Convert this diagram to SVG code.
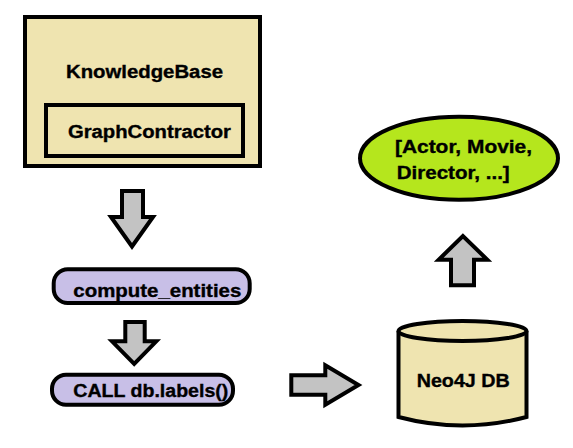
<svg xmlns="http://www.w3.org/2000/svg" width="573" height="448" viewBox="0 0 573 448">
<style>
.box{fill:#efe4b0;stroke:#000;stroke-width:4}
.pill{fill:#c8bfe7;stroke:#000;stroke-width:4}
.ell{fill:#b5e61d;stroke:#000;stroke-width:4}
.arr{fill:#c3c3c3;stroke:#000;stroke-width:4;stroke-linejoin:miter}
.t{font-family:"Liberation Sans",Arial,sans-serif;font-weight:bold;font-size:17.5px;fill:#000;stroke:#000;stroke-width:0.35}
</style>
<rect width="573" height="448" fill="#fff"/>
<g id="knowledgebase">
<rect class="box" x="25" y="17" width="235" height="149"/>
<text class="t" x="66" y="77.5" textLength="157" lengthAdjust="spacingAndGlyphs">KnowledgeBase</text>
</g>
<g id="graphcontractor">
<rect class="box" x="46" y="105" width="197" height="51"/>
<text class="t" x="68" y="137.5" textLength="163" lengthAdjust="spacingAndGlyphs">GraphContractor</text>
</g>
<g id="compute_entities">
<rect class="pill" x="53.7" y="269.3" width="196" height="33.7" rx="14" ry="14"/>
<text class="t" x="73.3" y="297" textLength="168" lengthAdjust="spacingAndGlyphs">compute_entities</text>
</g>
<g id="call_db_labels">
<rect class="pill" x="52" y="374.7" width="181" height="30" rx="14" ry="14"/>
<text class="t" x="73.3" y="397" textLength="155" lengthAdjust="spacingAndGlyphs">CALL db.labels()</text>
</g>
<g id="neo4j_db">
<path class="box" d="M398.5 331 L398.5 417 Q462.5 434 526.5 417 L526.5 331"/>
<ellipse class="box" cx="462.5" cy="331" rx="64" ry="10"/>
<text class="t" x="416.7" y="387" textLength="93" lengthAdjust="spacingAndGlyphs">Neo4J DB</text>
</g>
<g id="labels_result">
<ellipse class="ell" cx="459" cy="158.3" rx="99" ry="41.5"/>
<text class="t" x="395" y="153.3" textLength="137" lengthAdjust="spacingAndGlyphs">[Actor, Movie,</text>
<text class="t" x="396.7" y="179" textLength="113" lengthAdjust="spacingAndGlyphs">Director, ...]</text>
</g>
<g id="connectors">
<polygon class="arr" points="122,191 143,191 143,217 153,217 132,246.5 111,217 122,217"/>
<polygon class="arr" points="125.3,322 144.7,322 144.7,341.3 156.3,341.3 134.2,364 112,341.3 125.3,341.3"/>
<polygon class="arr" points="291.3,375.3 325.3,375.3 325.3,365.3 358.5,385 325.3,404.7 325.3,394.7 291.3,394.7"/>
<polygon class="arr" points="451,285.3 451,259.7 438.7,259.7 462.9,236 487.3,259.7 474,259.7 474,285.3"/>
</g>
</svg>
